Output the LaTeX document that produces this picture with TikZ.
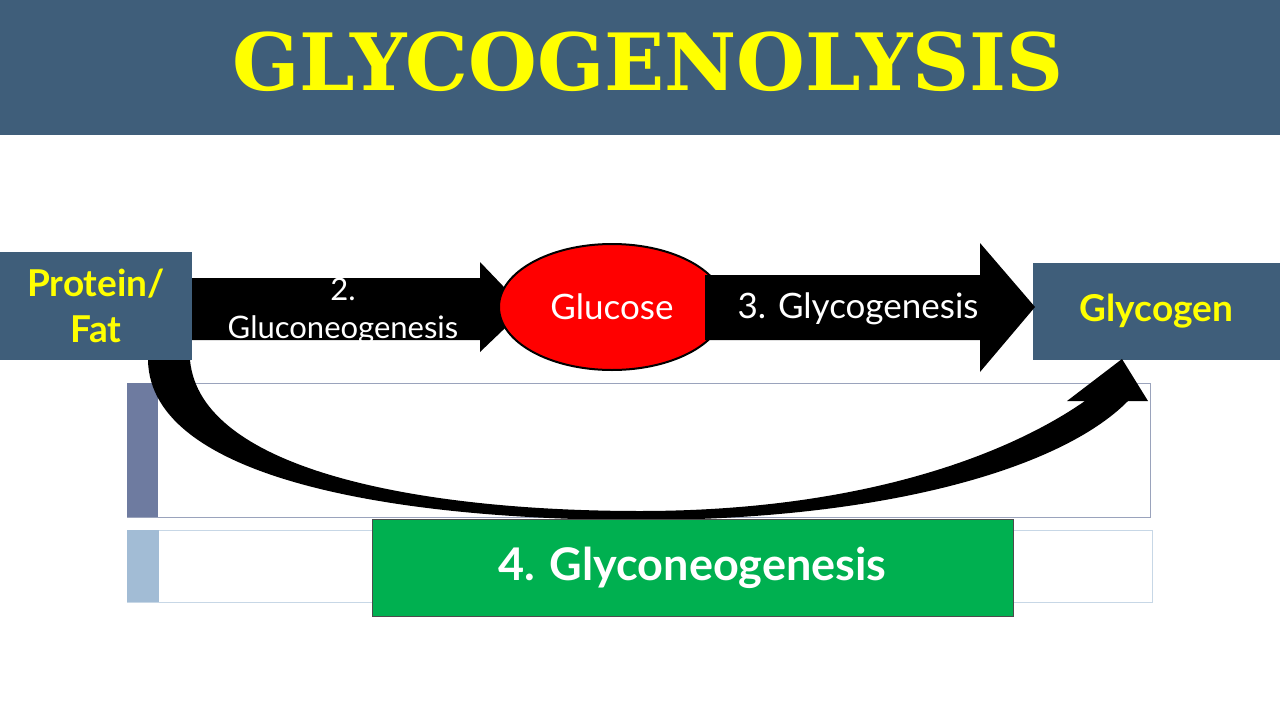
\documentclass[tikz,border=0pt]{standalone}
\usetikzlibrary{shapes.geometric}
\usepackage{fontspec}
\setmainfont{Lato}
\newfontfamily\titlefont{DejaVu Serif}
\definecolor{slate}{HTML}{3F5E7A}
\definecolor{ttl}{HTML}{FFFF00}
\definecolor{grn}{HTML}{00B050}
\definecolor{barA}{HTML}{6E7BA0}
\definecolor{barB}{HTML}{A2BCD5}
\begin{document}
\begin{tikzpicture}[x=1pt,y=-1pt,
  box/.style={fill=slate,text=ttl,font=\bfseries\fontsize{37}{46}\selectfont,align=center,inner sep=0},
  wtxt/.style={text=white,font=\fontsize{35}{38}\selectfont,align=center}]
\useasboundingbox (0,0) rectangle (1280,720);
\fill[white] (0,0) rectangle (1280,720);
\fill[slate] (0,0) rectangle (1280,135);
\node[text=ttl,font=\titlefont\bfseries\fontsize{79}{84}\selectfont] (title) at (648,62) {GLYCOGENOLYSIS};
% frames
\draw[barA!70,line width=0.8pt] (127,383) rectangle (1150,517);
\fill[barA] (127,383) rectangle (158,517);
\draw[barB!60,line width=0.8pt] (127,530) rectangle (1152,602);
\fill[barB] (127,530) rectangle (159,602);
% boxes
\node[box,minimum width=192,minimum height=108] (pf) at (96,306) {Protein/\\Fat};
\node[box,minimum width=247,minimum height=97] (gly) at (1156.5,311.5) {Glycogen};
% arrow 1
\fill[black] (192,278) -- (480,278) -- (480,262) -- (525,309) -- (480,352) -- (480,340) -- (192,340) -- cycle;
\begin{scope}
\clip (192,270) rectangle (480,340);
\node[wtxt,font=\fontsize{31}{33}\selectfont] (t2a) at (343,289) {2.};
\node[wtxt,font=\fontsize{31}{33}\selectfont] (t2b) at (343,330) {Gluconeogenesis};
\end{scope}
% ellipse
\node[draw=black,line width=2pt,fill=red,ellipse,minimum width=226,minimum height=126,inner sep=0] (glu) at (612,307) {};
\node[wtxt] at (glu) {Glucose};
% arrow 2
\fill[black] (705,275) -- (980,275) -- (980,243) -- (1035,307) -- (980,372) -- (980,340) -- (705,340) -- cycle;
\node[wtxt] (t3) at (858,309) {3. Glycogenesis};
% curved arrow
\fill[black] (148,360) .. controls (150,480) and (400,520) .. (640,520)
  .. controls (880,520) and (1060,470) .. (1128,401) -- (1148,401) -- (1122,359) -- (1067,401) -- (1085,401)
  .. controls (1000,460) and (850,511) .. (640,511)
  .. controls (420,511) and (200,470) .. (190,360) -- cycle;
% green box
\node[draw=black!70,fill=grn,minimum width=641,minimum height=97,text=white,font=\bfseries\fontsize{45}{48}\selectfont,inner sep=0] (g4) at (692.5,567.5) {4. Glyconeogenesis};
\end{tikzpicture}
\end{document}
